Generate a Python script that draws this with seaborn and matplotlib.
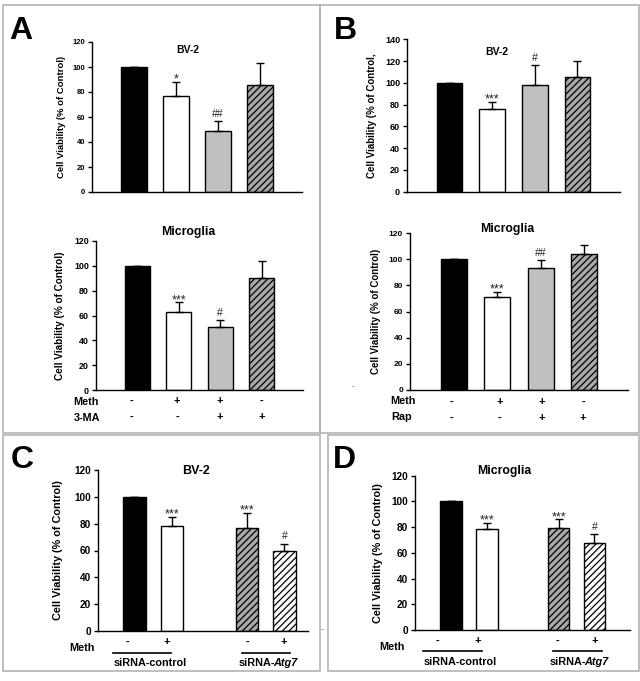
import numpy as np
import pandas as pd
import seaborn as sns
import matplotlib
matplotlib.use("Agg")
import matplotlib.pyplot as plt
from matplotlib.patches import Rectangle
from matplotlib.lines import Line2D

# ---------------- data ----------------
groups4 = ["ctrl", "meth", "meth_inh", "inh"]
pos4 = [0, 1, 2, 3]

A_bv2_vals = [100, 77, 48.5, 85.5]
A_bv2_err = [0, 11, 8.3, 17.5]
A_mg_vals = [100, 63, 50.5, 90]
A_mg_err = [0, 7.5, 5.5, 13.4]

B_bv2_vals = [100, 75.7, 98, 105.7]
B_bv2_err = [0, 7, 18, 14]
B_mg_vals = [100, 71, 93.7, 104]
B_mg_err = [0, 3.8, 5.6, 7.2]

groupsCD = ["ctrl", "meth", "atg7", "atg7_meth"]
posCD = [0, 1, 3, 4]
C_vals = [100, 78.5, 77, 59.5]
C_err = [0, 6.3, 11, 5.7]
D_vals = [100, 78.5, 79, 67.4]
D_err = [0, 5, 7, 7.2]

A_annot = ["", "*", "##", ""]
A_mg_annot = ["", "***", "#", ""]
B_annot = ["", "***", "#", ""]
B_mg_annot = ["", "***", "##", ""]
C_annot = ["", "***", "***", "#"]
D_annot = ["", "***", "***", "#"]

meth_signs = ["-", "+", "+", "-"]
inh_signs = ["-", "-", "+", "+"]
meth_signs_CD = ["-", "+", "-", "+"]

W, H = 640, 681
FONT = "Liberation Sans"
plt.rcParams["font.family"] = [FONT, "DejaVu Sans"]
plt.rcParams["hatch.linewidth"] = 0.9

fig = plt.figure(figsize=(W / 100, H / 100), dpi=100)


def fx(x):
    return x / W


def fy(y):
    return 1 - y / H


def ftext(x, y, s, size=8, weight="bold", ha="center", va="center", **kw):
    fig.text(fx(x), fy(y), s, fontsize=size, fontweight=weight, ha=ha, va=va, **kw)


# panel frames
frame_col = "#b4b4b4"
for (x0, y0, x1, y1) in [(3, 5, 320, 433), (320, 5, 639, 433), (3, 435, 320, 671), (328, 435, 639, 671)]:
    fig.add_artist(Rectangle((fx(x0), fy(y1)), fx(x1) - fx(x0), fy(y0) - fy(y1),
                             transform=fig.transFigure, fill=False, edgecolor=frame_col, lw=1.2))


def panel(left, right, y0px, ytop_px, ymax, positions, names, vals, errs, colors, hatches,
          xlim, yticks, ylabel, label_x, tick_size, ylab_size, annots):
    ax = fig.add_axes([fx(left), fy(y0px), fx(right) - fx(left), (y0px - ytop_px) / H])
    df = pd.DataFrame({"pos": positions, "grp": names, "val": vals})
    sns.barplot(data=df, x="pos", y="val", hue="grp", hue_order=names,
                palette=dict(zip(names, colors)), native_scale=True, width=0.6,
                saturation=1, edgecolor="black", linewidth=1.0, legend=False, ax=ax, errorbar=None)
    for p in ax.patches:
        cx = p.get_x() + p.get_width() / 2
        i = int(np.argmin([abs(cx - q) for q in positions]))
        if hatches[i]:
            p.set_hatch(hatches[i])
    ax.errorbar(positions, vals, yerr=[np.zeros(len(vals)), errs], fmt="none",
                ecolor="black", elinewidth=1.0, capsize=2.6, capthick=1.0, zorder=5)
    for i, a in enumerate(annots):
        if not a:
            continue
        if "*" in a:
            ax.annotate(a, (positions[i], vals[i] + errs[i]), xytext=(0, -0.5),
                        textcoords="offset points", ha="center", va="baseline",
                        fontsize=9, color="#222222")
        else:
            ax.annotate(a, (positions[i], vals[i] + errs[i]), xytext=(0, 3),
                        textcoords="offset points", ha="center", va="baseline",
                        fontsize=7.5, color="#222222")
    ax.set_xlim(*xlim)
    ax.set_ylim(0, ymax)
    ax.set_yticks(yticks)
    ax.set_yticklabels([str(t) for t in yticks], fontsize=tick_size, fontweight="bold")
    ax.set_xticks([])
    ax.set_xlabel("")
    ax.set_ylabel(ylabel, fontsize=ylab_size, fontweight="bold")
    ax.yaxis.set_label_coords((label_x - left) / (right - left), 0.5)
    ax.tick_params(axis="y", direction="out", length=3, width=1, pad=2)
    for s in ["top", "right"]:
        ax.spines[s].set_visible(False)
    for s in ["left", "bottom"]:
        ax.spines[s].set_linewidth(1.0)
    ax.set_facecolor("none")
    return ax


cols4 = ["black", "white", "#c0c0c0", "#a8a8a8"]
hat4 = [None, None, None, "/////"]
colsCD = ["black", "white", "#a8a8a8", "white"]
hatCD = [None, None, "/////", "/////"]
ylab = "Cell Viability (% of Control)"

# Panel A
panel(92, 302, 192, 42, 120, pos4, groups4, A_bv2_vals, A_bv2_err, cols4, hat4,
      (-1, 4), list(range(0, 121, 20)), ylab, 66, 5.5, 6.8, A_annot)
panel(96, 303, 390.3, 240.7, 120, pos4, groups4, A_mg_vals, A_mg_err, cols4, hat4,
      (-1, 4), list(range(0, 121, 20)), ylab, 65, 6.4, 7.2, A_mg_annot)
# Panel B
panel(407, 620, 191.7, 39.3, 140, pos4, groups4, B_bv2_vals, B_bv2_err, cols4, hat4,
      (-1, 4), list(range(0, 141, 20)), "Cell Viability (% of Control,", 377, 6.5, 7.0, B_annot)
panel(410, 628, 389.7, 233.3, 120, pos4, groups4, B_mg_vals, B_mg_err, cols4, hat4,
      (-1, 4), list(range(0, 121, 20)), ylab, 381, 6.0, 7.0, B_mg_annot)
# Panel C
panel(97.7, 308, 631, 470, 120, posCD, groupsCD, C_vals, C_err, colsCD, hatCD,
      (-0.98, 4.63), list(range(0, 121, 20)), ylab, 63, 7.2, 7.8, C_annot)
# Panel D
panel(415, 630, 630, 475.7, 120, posCD, groupsCD, D_vals, D_err, colsCD, hatCD,
      (-1, 4.99), list(range(0, 121, 20)), ylab, 383, 7.2, 7.8, D_annot)

# titles
ftext(188, 50, "BV-2", size=7.5)
ftext(188, 232, "Microglia", size=8.8)
ftext(497, 52, "BV-2", size=7.5)
ftext(507, 229, "Microglia", size=8.8)
ftext(196, 471, "BV-2", size=9)
ftext(504, 471, "Microglia", size=8.8)

# panel letters
for (x, y, s) in [(21, 31, "A"), (345, 31, "B"), (22, 460, "C"), (344, 460, "D")]:
    ftext(x, y, s, size=23)

# treatment rows A / B
ftext(86, 402, "Meth", size=7.8)
ftext(87, 418, "3-MA", size=7.8)
for x, s in zip([131, 177, 220, 262], meth_signs):
    ftext(x, 401, s, size=8)
for x, s in zip([131, 177, 220, 262], inh_signs):
    ftext(x, 417, s, size=8)
ftext(403, 401, "Meth", size=7.8)
ftext(402, 417, "Rap", size=7.8)
for x, s in zip([452, 500, 542, 583], meth_signs):
    ftext(x, 402, s, size=8)
for x, s in zip([452, 500, 542, 583], inh_signs):
    ftext(x, 418, s, size=8)

# treatment rows C / D
ftext(82, 648, "Meth", size=7.8)
for x, s in zip([127, 167, 247, 284], meth_signs_CD):
    ftext(x, 642, s, size=8)
ftext(150, 663, "siRNA-control", size=7.8)
ftext(275, 663, "siRNA-", size=7.8, ha="right")
ftext(273.5, 663, "Atg7", size=7.8, ha="left", style="italic")
for (x0, x1) in [(113, 171), (242, 290)]:
    fig.add_artist(Line2D([fx(x0), fx(x1)], [fy(653), fy(653)], transform=fig.transFigure,
                          color="black", lw=1.2))

ftext(392, 647, "Meth", size=7.8)
for x, s in zip([437, 478, 558, 595], meth_signs_CD):
    ftext(x, 641, s, size=8)
ftext(460, 662, "siRNA-control", size=7.8)
ftext(586, 662, "siRNA-", size=7.8, ha="right")
ftext(584.5, 662, "Atg7", size=7.8, ha="left", style="italic")
for (x0, x1) in [(423, 482), (553, 602)]:
    fig.add_artist(Line2D([fx(x0), fx(x1)], [fy(651), fy(651)], transform=fig.transFigure,
                          color="black", lw=1.2))

# small stray marks in the original
ftext(353, 387, "-", size=6, weight="normal", color="#555555")
ftext(322, 630, "-", size=6, weight="normal", color="#555555")

fig.savefig("out.png", dpi=100, facecolor="white")
